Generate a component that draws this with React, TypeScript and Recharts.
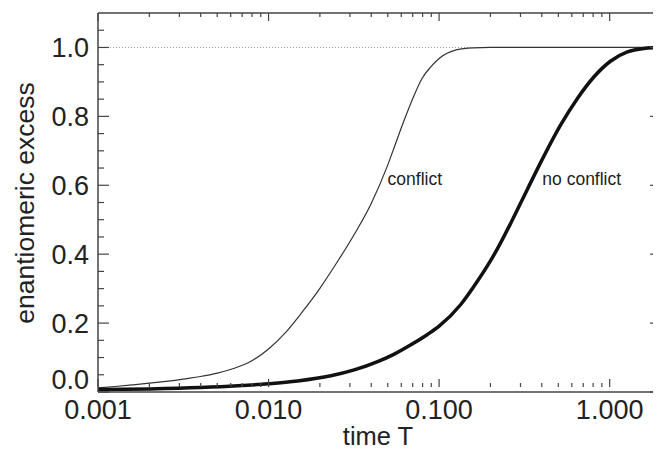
import { LineChart, Line, XAxis, YAxis, ReferenceLine, ReferenceDot } from "recharts";

// time T (log) and enantiomeric excess
const conflictT = [
  0.001, 0.00126, 0.00158, 0.002, 0.00251, 0.00316, 0.00398, 0.00501, 0.00631, 0.00794, 0.01, 0.0126, 0.0158,
  0.02, 0.0251, 0.0316, 0.0398, 0.0501, 0.0562, 0.0631, 0.0708, 0.0794, 0.0891, 0.1, 0.126, 0.158, 0.2, 1, 2,
];
const conflictV = [
  0.012, 0.016, 0.0205, 0.0255, 0.031, 0.0375, 0.045, 0.055, 0.069, 0.09, 0.125, 0.173, 0.233,
  0.301, 0.375, 0.455, 0.545, 0.66, 0.728, 0.795, 0.857, 0.91, 0.943, 0.968, 0.993, 0.999, 1.0, 1.0, 1.0,
];

const noConflictT = [
  0.001, 0.002, 0.004, 0.0066, 0.01, 0.0148, 0.0232, 0.0318, 0.0436, 0.0546, 0.0683, 0.0855, 0.1, 0.134,
  0.168, 0.211, 0.263, 0.329, 0.413, 0.516, 0.647, 0.81, 1.01, 1.27, 1.59, 2,
];
const noConflictV = [
  0.007, 0.009, 0.013, 0.018, 0.024, 0.032, 0.047, 0.064, 0.088, 0.11, 0.137, 0.167, 0.191, 0.254,
  0.322, 0.4, 0.49, 0.588, 0.686, 0.775, 0.852, 0.915, 0.96, 0.987, 0.997, 1.0,
];

const xMajorTicks = [0.001, 0.01, 0.1, 1];
const xMinorTicks = [
  0.002, 0.003, 0.004, 0.005, 0.006, 0.007, 0.008, 0.009,
  0.02, 0.03, 0.04, 0.05, 0.06, 0.07, 0.08, 0.09,
  0.2, 0.3, 0.4, 0.5, 0.6, 0.7, 0.8, 0.9,
];
const yMajorTicks = [0, 0.2, 0.4, 0.6, 0.8, 1.0];
const yMinorTicks = [0.05, 0.1, 0.15, 0.25, 0.3, 0.35, 0.45, 0.5, 0.55, 0.65, 0.7, 0.75, 0.85, 0.9, 0.95, 1.05];

const curveLabels = ["conflict", "no conflict"];
const curveLabelT = [0.0499, 0.403];
const curveLabelV = [0.6, 0.6];

const conflictData = conflictT.map((t, i) => ({ t, v: conflictV[i] }));
const noConflictData = noConflictT.map((t, i) => ({ t, v: noConflictV[i] }));
const xTicks = [...xMajorTicks, ...xMinorTicks].sort((a, b) => a - b);
const yTicks = [...yMajorTicks, ...yMinorTicks].sort((a, b) => a - b);

const W = 653;
const H = 443;
const TOP = 5;
const LEFT = 90;
const BOTTOM = 379;
const RIGHT = 653;
const FONT = "'Liberation Sans', Arial, Helvetica, sans-serif";
const AXIS = "#444";
const TEXT = "#222";

// ticks point inwards on all four sides, labels only on bottom/left majors
const XTick = (props: any) => {
  const { x, payload } = props;
  const major = xMajorTicks.includes(payload.value);
  const len = major ? 8 : 4;
  return (
    <g>
      <line x1={x} x2={x} y1={BOTTOM} y2={BOTTOM - len} stroke={AXIS} strokeWidth={1.2} />
      <line x1={x} x2={x} y1={TOP} y2={TOP + len} stroke={AXIS} strokeWidth={1.2} />
      {major && (
        <text x={x} y={BOTTOM + 32} textAnchor="middle" fontSize={27} fontFamily={FONT} fill={TEXT}>
          {payload.value.toFixed(3)}
        </text>
      )}
    </g>
  );
};

const YTick = (props: any) => {
  const { y, payload } = props;
  const major = yMajorTicks.includes(payload.value);
  const len = major ? 11 : 6;
  const dy = payload.value === 0 ? -3 : 9.5;
  return (
    <g>
      <line x1={LEFT} x2={LEFT + len} y1={y} y2={y} stroke={AXIS} strokeWidth={1.2} />
      <line x1={RIGHT} x2={RIGHT - len} y1={y} y2={y} stroke={AXIS} strokeWidth={1.2} />
      {major && (
        <text x={LEFT - 9} y={y + dy} textAnchor="end" fontSize={27} fontFamily={FONT} fill={TEXT}>
          {payload.value.toFixed(1)}
        </text>
      )}
    </g>
  );
};

const CurveLabel = (text: string) => (props: any) => (
  <text x={props.cx} y={props.cy} fontSize={17.5} fontFamily={FONT} fill={TEXT}>
    {text}
  </text>
);

export default function App() {
  return (
    <LineChart width={W} height={H} margin={{ top: TOP, right: 0, bottom: 0, left: 0 }}>
      <XAxis
        xAxisId="bottom"
        dataKey="t"
        type="number"
        scale="log"
        domain={[0.001, 2]}
        allowDataOverflow
        ticks={xTicks}
        interval={0}
        height={H - BOTTOM - TOP}
        stroke={AXIS}
        strokeWidth={1.5}
        tickLine={false}
        tick={XTick}
        label={{
          content: () => (
            <text x={370} y={437} textAnchor="middle" fontSize={25.5} fontFamily={FONT} fill={TEXT}>
              time T
            </text>
          ),
        }}
      />
      <YAxis
        yAxisId="left"
        type="number"
        domain={[0, 1.1]}
        allowDataOverflow
        ticks={yTicks}
        interval={0}
        width={LEFT}
        stroke={AXIS}
        strokeWidth={1.5}
        tickLine={false}
        tick={YTick}
        label={{
          content: () => (
            <text
              x={17}
              y={195}
              transform="rotate(-90 17 195)"
              textAnchor="middle"
              dominantBaseline="central"
              fontSize={26.5}
              fontFamily={FONT}
              fill={TEXT}
            >
              enantiomeric excess
            </text>
          ),
        }}
      />
      <ReferenceLine xAxisId="bottom" yAxisId="left" y={1.1} stroke={AXIS} strokeWidth={1.5} />
      <ReferenceLine xAxisId="bottom" yAxisId="left" x={2} stroke={AXIS} strokeWidth={1.5} />
      <ReferenceLine xAxisId="bottom" yAxisId="left" y={1} stroke="#999" strokeDasharray="1 2" />
      <Line
        xAxisId="bottom"
        yAxisId="left"
        data={conflictData}
        dataKey="v"
        type="monotone"
        stroke="#333"
        strokeWidth={1.2}
        dot={false}
        isAnimationActive={false}
      />
      <Line
        xAxisId="bottom"
        yAxisId="left"
        data={noConflictData}
        dataKey="v"
        type="monotone"
        stroke="#111"
        strokeWidth={3.5}
        dot={false}
        isAnimationActive={false}
      />
      {curveLabels.map((text, i) => (
        <ReferenceDot
          key={text}
          xAxisId="bottom"
          yAxisId="left"
          x={curveLabelT[i]}
          y={curveLabelV[i]}
          r={0}
          shape={CurveLabel(text)}
        />
      ))}
    </LineChart>
  );
}
